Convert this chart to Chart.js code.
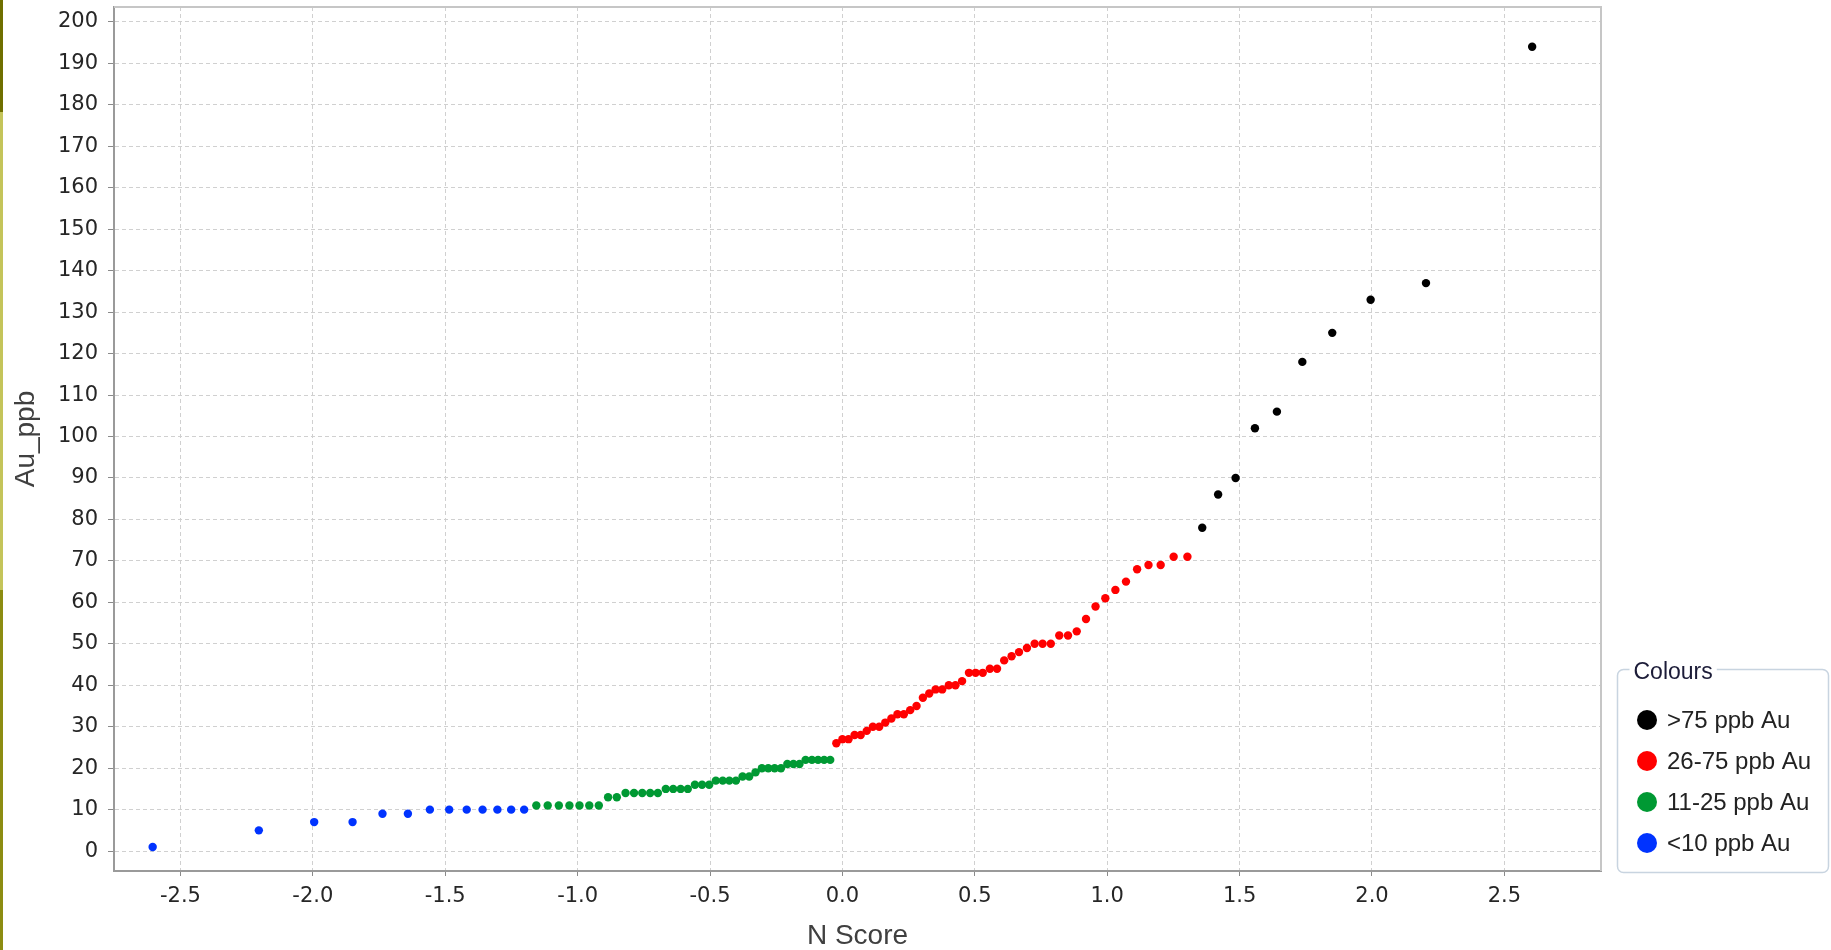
<!DOCTYPE html>
<html>
<head>
<meta charset="utf-8">
<title>Au_ppb vs N Score</title>
<script src="https://cdn.jsdelivr.net/npm/chart.js@4.4.1/dist/chart.umd.min.js"></script>
<style>
    html, body { margin: 0; padding: 0; background: #fff; overflow: hidden; }
    #wrap { position: relative; width: 1831px; height: 950px; }
    #chart { display: block; }
    #edge {
        position: absolute; left: 0; top: 0; width: 3px; height: 950px;
        background: linear-gradient(#6f6f00 0, #6f6f00 112px, #c4c45a 112px, #c4c45a 590px, #8c8c12 590px);
    }
</style>
</head>
<body>
<div id="wrap">
    <canvas id="chart" width="1831" height="950"></canvas>
    <div id="edge"></div>
</div>
<script>
// Normal score plot of Au assays, coloured by grade class

const seriesLabels = ['>75 ppb Au', '26-75 ppb Au', '11-25 ppb Au', '<10 ppb Au'];
const seriesColours = ['#000000', '#ff0000', '#009933', '#0033ff'];

const blackN  = [1.359, 1.419, 1.485, 1.558, 1.641, 1.737, 1.850, 1.995, 2.204, 2.605];
const blackAu = [78, 86, 90, 102, 106, 118, 125, 133, 137, 194];

const redN  = [-0.023, 0.000, 0.023, 0.046, 0.069, 0.092, 0.115, 0.139, 0.162, 0.185,
               0.208, 0.232, 0.256, 0.280, 0.304, 0.328, 0.352, 0.377, 0.402, 0.427,
               0.452, 0.478, 0.503, 0.530, 0.557, 0.584, 0.611, 0.639, 0.667, 0.697,
               0.726, 0.756, 0.787, 0.819, 0.852, 0.885, 0.920, 0.956, 0.993, 1.031,
               1.071, 1.113, 1.156, 1.202, 1.251, 1.303];
const redAu = [26, 27, 27, 28, 28, 29, 30, 30, 31, 32,
               33, 33, 34, 35, 37, 38, 39, 39, 40, 40,
               41, 43, 43, 43, 44, 44, 46, 47, 48, 49,
               50, 50, 50, 52, 52, 53, 56, 59, 61, 63,
               65, 68, 69, 69, 71, 71];

const greenN  = [-1.156, -1.113, -1.071, -1.031, -0.993, -0.956, -0.920, -0.885, -0.852, -0.819,
                 -0.787, -0.756, -0.726, -0.697, -0.667, -0.639, -0.611, -0.584, -0.557, -0.530,
                 -0.503, -0.478, -0.452, -0.427, -0.402, -0.377, -0.352, -0.328, -0.304, -0.280,
                 -0.256, -0.232, -0.208, -0.185, -0.162, -0.139, -0.115, -0.092, -0.069, -0.046];
const greenAu = [11, 11, 11, 11, 11, 11, 11, 13, 13, 14,
                 14, 14, 14, 14, 15, 15, 15, 15, 16, 16,
                 16, 17, 17, 17, 17, 18, 18, 19, 20, 20,
                 20, 20, 21, 21, 21, 22, 22, 22, 22, 22];

const blueN  = [-2.605, -2.204, -1.995, -1.850, -1.737, -1.641, -1.558, -1.485, -1.419, -1.359, -1.303, -1.251, -1.202];
const blueAu = [1, 5, 7, 7, 9, 9, 10, 10, 10, 10, 10, 10, 10];

const xTicks = [-2.5, -2.0, -1.5, -1.0, -0.5, 0.0, 0.5, 1.0, 1.5, 2.0, 2.5];
const yTicks = [0, 10, 20, 30, 40, 50, 60, 70, 80, 90, 100, 110, 120, 130, 140, 150, 160, 170, 180, 190, 200];

function toPoints(xs, ys) {
    return xs.map((x, i) => ({ x: x, y: ys[i] }));
}

const tickFont = { family: 'DejaVu Sans', size: 21 };
const titleFont = { family: 'Liberation Sans', size: 28, lineHeight: 1 };

// light top/right frame of the plot box
const plotFrame = {
    id: 'plotFrame',
    beforeDatasetsDraw(chart) {
        const { ctx, chartArea: a } = chart;
        ctx.save();
        ctx.strokeStyle = '#c6c6c6';
        ctx.lineWidth = 2;
        ctx.beginPath();
        ctx.moveTo(a.left, a.top);
        ctx.lineTo(a.right, a.top);
        ctx.lineTo(a.right, a.bottom);
        ctx.stroke();
        ctx.restore();
    }
};

// titled-border legend box ("Colours")
const colourLegend = {
    id: 'colourLegend',
    afterDraw(chart) {
        const ctx = chart.ctx;
        const bx = 1617.5, by = 669.5, bw = 211, bh = 203, r = 6;
        ctx.save();
        ctx.strokeStyle = '#c8d4e0';
        ctx.lineWidth = 1.5;
        ctx.beginPath();
        ctx.roundRect(bx, by, bw, bh, r);
        ctx.stroke();

        ctx.font = '23px "Liberation Sans"';
        const tw = ctx.measureText('Colours').width;
        ctx.fillStyle = '#ffffff';
        ctx.fillRect(bx + 12, by - 3, tw + 8, 6);
        ctx.fillStyle = '#1c1c38';
        ctx.textBaseline = 'alphabetic';
        ctx.fillText('Colours', bx + 16, 679);

        ctx.font = '24px "Liberation Sans"';
        ctx.textBaseline = 'middle';
        chart.data.datasets.forEach((ds, i) => {
            const cy = 720 + i * 41;
            ctx.beginPath();
            ctx.arc(1647, cy, 10, 0, Math.PI * 2);
            ctx.fillStyle = ds.backgroundColor;
            ctx.fill();
            ctx.fillStyle = '#222';
            ctx.fillText(ds.label, 1667, cy + 1);
        });
        ctx.restore();
    }
};

const groups = [
    toPoints(blackN, blackAu),
    toPoints(redN, redAu),
    toPoints(greenN, greenAu),
    toPoints(blueN, blueAu),
];

new Chart(document.getElementById('chart'), {
    type: 'scatter',
    data: {
        datasets: groups.map((pts, i) => ({
            label: seriesLabels[i],
            data: pts,
            backgroundColor: seriesColours[i],
            borderColor: seriesColours[i],
            borderWidth: 0,
            pointRadius: 4.2,
            pointHoverRadius: 4.2,
        }))
    },
    options: {
        responsive: false,
        animation: false,
        devicePixelRatio: 1,
        events: [],
        layout: { padding: { left: 0, top: 7, right: 230, bottom: 0 } },
        plugins: {
            legend: { display: false },
            tooltip: { enabled: false }
        },
        scales: {
            x: {
                type: 'linear',
                position: 'bottom',
                min: -2.751,
                max: 2.865,
                afterBuildTicks: s => { s.ticks = xTicks.map(v => ({ value: v })); },
                afterFit: s => { s.height = 79; s.paddingLeft = 0; s.paddingRight = 0; },
                grid: {
                    color: '#d0d0d0',
                    lineWidth: 1,
                    tickLength: 5,
                    tickColor: '#8a8a8a',
                    tickBorderDash: [],
                    tickWidth: 1
                },
                border: { display: true, color: '#9a9a9a', width: 2, dash: [4, 3] },
                ticks: {
                    font: tickFont,
                    color: '#262626',
                    padding: 8,
                    maxRotation: 0,
                    autoSkip: false,
                    callback: v => Number(v).toFixed(1)
                },
                title: { display: true, text: 'N Score', font: titleFont, color: '#404040', padding: 0 }
            },
            y: {
                type: 'linear',
                min: -4.8,
                max: 203.6,
                afterBuildTicks: s => { s.ticks = yTicks.map(v => ({ value: v })); },
                afterFit: s => { s.width = 114; s.paddingTop = 0; s.paddingBottom = 0; },
                grid: {
                    color: '#d0d0d0',
                    lineWidth: 1,
                    tickLength: 6,
                    tickColor: '#8a8a8a',
                    tickBorderDash: [],
                    tickWidth: 1
                },
                border: { display: true, color: '#9a9a9a', width: 2, dash: [4, 3] },
                ticks: {
                    font: tickFont,
                    color: '#262626',
                    padding: 10,
                    autoSkip: false,
                    callback: v => String(v)
                },
                title: { display: true, text: 'Au_ppb', font: titleFont, color: '#404040', padding: { top: 12, bottom: 0 } }
            }
        }
    },
    plugins: [plotFrame, colourLegend]
});
</script>
</body>
</html>
